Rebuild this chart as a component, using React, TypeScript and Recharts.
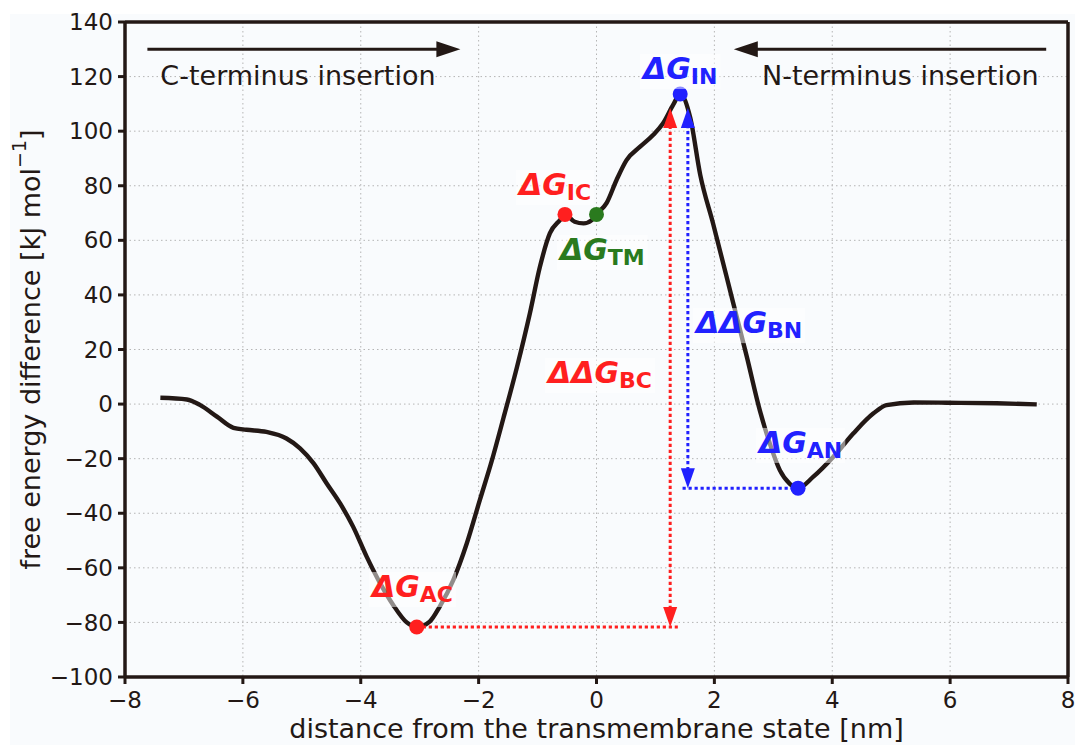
import React from "react";
import {
  CartesianGrid,
  Line,
  LineChart,
  ReferenceDot,
  ReferenceLine,
  XAxis,
  YAxis,
} from "recharts";

// free energy profile
const distance = [
  -7.4, -6.95, -6.73, -6.44, -6.16, -5.94, -5.6, -5.26, -5.03, -4.8, -4.58,
  -4.35, -4.13, -3.9, -3.67, -3.45, -3.22, -3.05, -2.83, -2.66, -2.43, -2.2,
  -1.98, -1.78, -1.58, -1.35, -1.13, -0.96, -0.79, -0.62, -0.535, -0.37, -0.22,
  -0.08, 0.0, 0.17, 0.34, 0.51, 0.74, 0.96, 1.13, 1.3, 1.42, 1.59, 1.76, 1.98,
  2.32, 2.55, 2.77, 2.94, 3.11, 3.28, 3.42, 3.68, 4.02, 4.36, 4.7, 4.92, 5.38,
  5.94, 6.79, 7.47,
];
const energy = [
  2.3, 1.7, -0.3, -4.6, -8.7, -9.4, -10.2, -12.6, -16.2, -21.7, -29, -36.4,
  -44.9, -55.9, -65.7, -73.6, -80.0, -81.7, -79.7, -74.2, -64.5, -51, -35.2,
  -21, -5.2, 13.5, 33.3, 50.3, 62.6, 67.4, 69.5, 66.8, 66.2, 67.4, 69.5, 73.6,
  82.1, 89.4, 94.3, 98.6, 102.9, 109.6, 113.6, 105, 84, 66, 37, 17.4, -2.2,
  -14.4, -24.2, -29.2, -30.8, -26.6, -19.3, -10.7, -3.4, -0.4, 0.6, 0.5, 0.3,
  -0.1,
];

const xTicks = [-8, -6, -4, -2, 0, 2, 4, 6, 8];
const yTicks = [-100, -80, -60, -40, -20, 0, 20, 40, 60, 80, 100, 120, 140];

const INK = "#231815";
const RED = "#ff1f1f";
const BLUE = "#2121ff";
const GREEN = "#2a7a1e";
const FONT = "'DejaVu Sans', sans-serif";

// marked states on the curve
const stateX = [-3.05, -0.535, 0.0, 1.42, 3.42];
const stateY = [-81.7, 69.5, 69.5, 113.6, -30.8];
const stateColor = [RED, RED, GREEN, BLUE, BLUE];

// state labels (left edge, baseline)
const labelMain = ["ΔG", "ΔG", "ΔG", "ΔG", "ΔG", "ΔΔG", "ΔΔG"];
const labelSub = ["AC", "IC", "TM", "IN", "AN", "BC", "BN"];
const labelX = [-3.81, -1.315, -0.62, 0.789, 2.757, -0.823, 1.688];
const labelY = [-70.7, 76.6, 52.8, 119.1, -17.9, 7.7, 26.0];
const labelColor = [RED, RED, GREEN, BLUE, BLUE, RED, BLUE];

// arrows / guide lines: [x1, y1, x2, y2]
const redGap = [1.25, -81.7, 1.25, 108.5];
const blueGap = [1.55, -30.8, 1.55, 108.5];
const redFloor = [-3.05, -81.7, 1.38, -81.7];
const blueFloor = [1.46, -30.8, 3.42, -30.8];
const cArrow = [-7.62, 130, -2.31, 130];
const nArrow = [7.63, 130, 2.33, 130];

const data = distance.map((d, i) => ({ distance: d, energy: energy[i] }));

const fmt = (v: number) => (v < 0 ? `\u2212${Math.abs(v)}` : `${v}`);

const glyphW: Record<string, number> = {
  "Δ": 0.774, G: 0.821, A: 0.774, B: 0.762, C: 0.734, I: 0.372, M: 0.995,
  N: 0.837, T: 0.682,
};
const textW = (s: string, size: number) =>
  s.split("").reduce((w, c) => w + (glyphW[c] ?? 0.7), 0) * size;

const arrowShape =
  (color: string, dotted: boolean, headA: boolean, headB: boolean, lw: number, hl: number, hw: number) =>
  (p: any) => {
    const { x1, y1, x2, y2 } = p;
    const len = Math.hypot(x2 - x1, y2 - y1) || 1;
    const ux = (x2 - x1) / len;
    const uy = (y2 - y1) / len;
    const head = (tx: number, ty: number, dx: number, dy: number) => {
      const bx = tx - dx * hl;
      const by = ty - dy * hl;
      return `${tx},${ty} ${bx - dy * hw},${by + dx * hw} ${bx + dy * hw},${by - dx * hw}`;
    };
    const sx = headA ? x1 + ux * hl * 0.6 : x1;
    const sy = headA ? y1 + uy * hl * 0.6 : y1;
    const ex = headB ? x2 - ux * hl * 0.6 : x2;
    const ey = headB ? y2 - uy * hl * 0.6 : y2;
    return (
      <g>
        <line
          x1={sx}
          y1={sy}
          x2={ex}
          y2={ey}
          stroke={color}
          strokeWidth={lw}
          strokeDasharray={dotted ? "3.2 2.8" : undefined}
        />
        {headA && <polygon points={head(x1, y1, -ux, -uy)} fill={color} />}
        {headB && <polygon points={head(x2, y2, ux, uy)} fill={color} />}
      </g>
    );
  };

const StateLabel = ({ cx, cy, i }: { cx: number; cy: number; i: number }) => {
  const main = labelMain[i];
  const sub = labelSub[i];
  const w = textW(main, 30) + textW(sub, 22);
  return (
    <g>
      <rect x={cx - 3} y={cy - 25} width={w + 6} height={35} fill="#ffffff" fillOpacity={0.5} />
      <text x={cx} y={cy} fill={labelColor[i]} fontFamily={FONT} fontWeight="bold" fontSize={30}>
        <tspan fontStyle="italic">{main}</tspan>
        <tspan fontSize={22} dy={5}>
          {sub}
        </tspan>
      </text>
    </g>
  );
};

const YLabel = (props: any) => {
  const vb = props.viewBox || { x: 0, y: 22, width: 125, height: 655 };
  const cx = vb.x + 30;
  const cy = vb.y + vb.height / 2;
  return (
    <text
      x={cx}
      y={cy}
      transform={`rotate(-90 ${cx} ${cy})`}
      textAnchor="middle"
      dominantBaseline="central"
      fill={INK}
      fontFamily={FONT}
      fontSize={27}
    >
      free energy difference [kJ mol
      <tspan dy={-11} fontSize={19}>
        −1
      </tspan>
      <tspan dy={11}>]</tspan>
    </text>
  );
};

const XLabel = (props: any) => {
  const vb = props.viewBox || { x: 125, y: 677, width: 943, height: 68 };
  return (
    <text
      x={vb.x + vb.width / 2}
      y={vb.y + 61}
      textAnchor="middle"
      fill={INK}
      fontFamily={FONT}
      fontSize={27}
    >
      distance from the transmembrane state [nm]
    </text>
  );
};

const segment = (s: number[]) => [
  { x: s[0], y: s[1] },
  { x: s[2], y: s[3] },
];

export default function App() {
  return (
    <div style={{ position: "absolute", left: 0, top: 0, width: 1075, height: 745, background: "#ffffff" }}>
      <div style={{ position: "absolute", left: 10, top: 14, right: 0, bottom: 0, background: "#f9fbfd" }} />
      <div style={{ position: "absolute", left: 0, top: 0 }}>
        <LineChart
          width={1075}
          height={745}
          data={data}
          margin={{ top: 22, right: 7, bottom: 0, left: 0 }}
          style={{ fontFamily: FONT }}
        >
          <CartesianGrid stroke="#b5b5b5" strokeDasharray="1.5 3" strokeWidth={1} />
          <XAxis
            dataKey="distance"
            type="number"
            domain={[-8, 8]}
            ticks={xTicks}
            allowDataOverflow
            height={68}
            tickFormatter={fmt}
            tick={{ fill: INK, fontSize: 23, fontFamily: FONT }}
            tickSize={7}
            tickMargin={8}
            tickLine={{ stroke: INK, strokeWidth: 3 }}
            axisLine={{ stroke: INK, strokeWidth: 3.5 }}
            label={XLabel}
          />
          <YAxis
            type="number"
            domain={[-100, 140]}
            ticks={yTicks}
            allowDataOverflow
            width={125}
            tickFormatter={fmt}
            tick={{ fill: INK, fontSize: 23, fontFamily: FONT }}
            tickSize={7}
            tickMargin={5}
            tickLine={{ stroke: INK, strokeWidth: 3 }}
            axisLine={{ stroke: INK, strokeWidth: 3.5 }}
            label={YLabel}
          />
          <ReferenceLine y={140} stroke={INK} strokeWidth={3.5} />
          <ReferenceLine x={8} stroke={INK} strokeWidth={3.5} />
          <Line
            type="monotone"
            dataKey="energy"
            stroke={INK}
            strokeWidth={4.4}
            dot={false}
            activeDot={false}
            isAnimationActive={false}
          />
          <ReferenceLine segment={segment(redFloor)} shape={arrowShape(RED, true, false, false, 3, 20, 7)} />
          <ReferenceLine segment={segment(blueFloor)} shape={arrowShape(BLUE, true, false, false, 3, 20, 7)} />
          <ReferenceLine segment={segment(redGap)} shape={arrowShape(RED, true, true, true, 3, 20, 7)} />
          <ReferenceLine segment={segment(blueGap)} shape={arrowShape(BLUE, true, true, true, 3, 20, 7)} />
          <ReferenceLine segment={segment(cArrow)} shape={arrowShape(INK, false, false, true, 3, 24, 8)} />
          <ReferenceLine segment={segment(nArrow)} shape={arrowShape(INK, false, false, true, 3, 24, 8)} />
          <ReferenceDot
            x={-7.4}
            y={117}
            r={0}
            shape={(p: any) => (
              <text x={p.cx} y={p.cy} fill={INK} fontFamily={FONT} fontSize={27}>
                C-terminus insertion
              </text>
            )}
          />
          <ReferenceDot
            x={7.5}
            y={117}
            r={0}
            shape={(p: any) => (
              <text x={p.cx} y={p.cy} fill={INK} fontFamily={FONT} fontSize={27} textAnchor="end">
                N-terminus insertion
              </text>
            )}
          />
          {stateX.map((x, i) => (
            <ReferenceDot key={`s${i}`} x={x} y={stateY[i]} r={7.5} fill={stateColor[i]} stroke="none" />
          ))}
          {labelX.map((x, i) => (
            <ReferenceDot
              key={`l${i}`}
              x={x}
              y={labelY[i]}
              r={0}
              shape={(p: any) => <StateLabel cx={p.cx} cy={p.cy} i={i} />}
            />
          ))}
        </LineChart>
      </div>
    </div>
  );
}
